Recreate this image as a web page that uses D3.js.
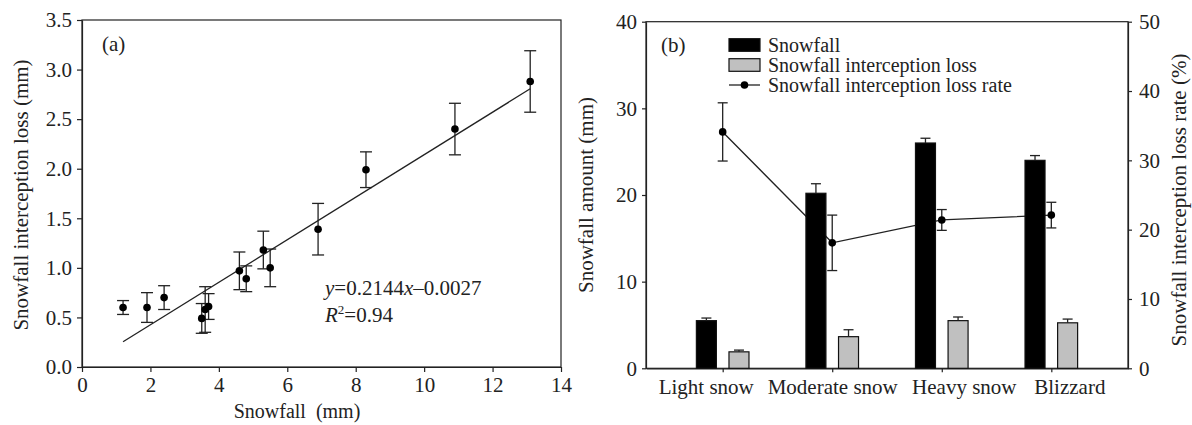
<!DOCTYPE html>
<html>
<head>
<meta charset="utf-8">
<title>Snowfall interception</title>
<script src="https://cdn.jsdelivr.net/npm/d3@7"></script>
<style>
  body { margin: 0; background: #fff; }
  svg, svg text { font-family: "Liberation Serif", "Times New Roman", serif; }
  .tick text { font-size: 21px; fill: #222; font-family: "Liberation Serif", "Times New Roman", serif; }
  .tick line, .domain { stroke: #222; stroke-width: 1.2; }
  .lbl { font-size: 21px; fill: #222; }
  .leg { font-size: 20px; fill: #222; }
</style>
</head>
<body>
<script>
// panel (a): snowfall vs interception loss
var snowfallX = [1.2, 1.9, 2.4, 3.5, 3.6, 3.7, 4.6, 4.8, 5.3, 5.5, 6.9, 8.3, 10.9, 13.1];
var lossY     = [0.60, 0.60, 0.70, 0.49, 0.58, 0.61, 0.97, 0.89, 1.18, 1.00, 1.39, 1.99, 2.40, 2.88];
var lossErr   = [0.07, 0.15, 0.12, 0.15, 0.23, 0.13, 0.19, 0.13, 0.19, 0.19, 0.26, 0.18, 0.26, 0.31];
var slope = 0.2144, intercept = -0.0027, r2 = 0.94;
var xTicksA = [0, 2, 4, 6, 8, 10, 12, 14];
var yTicksA = [0, 0.5, 1, 1.5, 2, 2.5, 3, 3.5];

// panel (b): by snowfall class
var categories   = ['Light snow', 'Moderate snow', 'Heavy snow', 'Blizzard'];
var snowAmount   = [5.5, 20.2, 26.0, 24.0];
var snowAmountErr= [0.3, 1.1, 0.55, 0.55];
var interLoss    = [1.9, 3.65, 5.5, 5.25];
var interLossErr = [0.2, 0.8, 0.42, 0.43];
var lossRate     = [34.1, 18.1, 21.4, 22.1];
var lossRateErr  = [4.2, 4.0, 1.5, 1.85];
var yTicksL = [0, 10, 20, 30, 40];
var yTicksR = [0, 10, 20, 30, 40, 50];

// category labels are not centred on their ticks in the original
var labelNudge = [-17, 0, 22, 18];

var ink = '#222';

var svg = d3.select('body').append('svg')
  .attr('width', 1192).attr('height', 425);

/* ---------- panel (a) ---------- */
var xA = d3.scaleLinear().domain([0, 14]).range([82, 561]);
var yA = d3.scaleLinear().domain([0, 3.5]).range([367, 20]);

var gA = svg.append('g');
gA.append('rect').attr('x', 82).attr('y', 20).attr('width', 561 - 82).attr('height', 367 - 20)
  .attr('fill', 'none').attr('stroke', ink).attr('stroke-width', 1.2);

gA.append('g').attr('transform', 'translate(0,367)')
  .call(d3.axisBottom(xA).tickValues(xTicksA).tickSize(5).tickSizeOuter(0).tickPadding(5));
gA.append('g').attr('transform', 'translate(82,0)')
  .call(d3.axisLeft(yA).tickValues(yTicksA).tickFormat(d3.format('.1f')).tickSize(5).tickSizeOuter(0).tickPadding(5));

// regression line
var xMin = d3.min(snowfallX), xMax = d3.max(snowfallX);
gA.append('line')
  .attr('x1', xA(xMin)).attr('y1', yA(slope * xMin + intercept))
  .attr('x2', xA(xMax)).attr('y2', yA(slope * xMax + intercept))
  .attr('stroke', ink).attr('stroke-width', 1.3);

var ptsA = snowfallX.map(function(d, i) { return { x: d, y: lossY[i], e: lossErr[i] }; });
var eb = gA.selectAll('.eb').data(ptsA).enter().append('g').attr('class', 'eb');
eb.append('line')
  .attr('x1', function(d) { return xA(d.x); }).attr('x2', function(d) { return xA(d.x); })
  .attr('y1', function(d) { return yA(d.y - d.e); }).attr('y2', function(d) { return yA(d.y + d.e); });
eb.append('line')
  .attr('x1', function(d) { return xA(d.x) - 6; }).attr('x2', function(d) { return xA(d.x) + 6; })
  .attr('y1', function(d) { return yA(d.y + d.e); }).attr('y2', function(d) { return yA(d.y + d.e); });
eb.append('line')
  .attr('x1', function(d) { return xA(d.x) - 6; }).attr('x2', function(d) { return xA(d.x) + 6; })
  .attr('y1', function(d) { return yA(d.y - d.e); }).attr('y2', function(d) { return yA(d.y - d.e); });
eb.selectAll('line').attr('stroke', ink).attr('stroke-width', 1.3);
gA.selectAll('.dot').data(ptsA).enter().append('circle')
  .attr('cx', function(d) { return xA(d.x); }).attr('cy', function(d) { return yA(d.y); })
  .attr('r', 3.8).attr('fill', '#000');

gA.append('text').attr('class', 'lbl').attr('x', 102).attr('y', 51).text('(a)');

var eq = gA.append('text').attr('class', 'lbl').attr('x', 325).attr('y', 295);
eq.append('tspan').attr('font-style', 'italic').text('y');
eq.append('tspan').text('=' + slope + '');
eq.append('tspan').attr('font-style', 'italic').text('x');
eq.append('tspan').text('\u2013' + Math.abs(intercept).toFixed(4));
var rt = gA.append('text').attr('class', 'lbl').attr('x', 325).attr('y', 322);
rt.append('tspan').attr('font-style', 'italic').text('R');
rt.append('tspan').attr('font-size', 13).attr('dy', -8).text('2');
rt.append('tspan').attr('dy', 8).text('=' + r2);

gA.append('text').attr('class', 'lbl').attr('x', 297).attr('y', 418).style('font-size', '20px')
  .attr('text-anchor', 'middle').style('white-space', 'pre').text('Snowfall  (mm)');
gA.append('text').attr('class', 'lbl').attr('text-anchor', 'middle')
  .attr('transform', 'translate(28,195) rotate(-90)').text('Snowfall interception loss (mm)');

/* ---------- panel (b) ---------- */
var xB = d3.scalePoint().domain(categories).range([646, 1128]).padding(0.7);
var yL = d3.scaleLinear().domain([0, 40]).range([368.3, 21.7]);
var yR = d3.scaleLinear().domain([0, 50]).range([368.3, 21.7]);

var gB = svg.append('g');
gB.append('rect').attr('x', 646).attr('y', 21.7).attr('width', 1128 - 646).attr('height', 368.3 - 21.7)
  .attr('fill', 'none').attr('stroke', ink).attr('stroke-width', 1.2);

var xAxB = gB.append('g').attr('transform', 'translate(0,368.3)')
  .call(d3.axisBottom(xB).tickSize(4).tickSizeOuter(0).tickPadding(7));
xAxB.selectAll('.tick text').attr('dx', function(d, i) { return labelNudge[i]; });
gB.append('g').attr('transform', 'translate(646,0)')
  .call(d3.axisLeft(yL).tickValues(yTicksL).tickSize(4).tickSizeOuter(0).tickPadding(5));
gB.append('g').attr('transform', 'translate(1128,0)')
  .call(d3.axisRight(yR).tickValues(yTicksR).tickSize(4).tickSizeOuter(0).tickPadding(7));

var barW = 20, off = 16.3;

// rate line sits behind the bars
gB.append('path')
  .datum(lossRate)
  .attr('d', d3.line().x(function(d, i) { return xB(categories[i]); }).y(function(d) { return yR(d); }))
  .attr('fill', 'none').attr('stroke', ink).attr('stroke-width', 1.3);

function bars(vals, errs, dx, fill) {
  var g = gB.append('g');
  g.selectAll('rect').data(vals).enter().append('rect')
    .attr('x', function(d, i) { return xB(categories[i]) + dx - barW / 2; })
    .attr('y', function(d) { return yL(d); })
    .attr('width', barW).attr('height', function(d) { return yL(0) - yL(d); })
    .attr('fill', fill).attr('stroke', '#111').attr('stroke-width', 1.2);
  g.selectAll('.v').data(vals).enter().append('line')
    .attr('x1', function(d, i) { return xB(categories[i]) + dx; })
    .attr('x2', function(d, i) { return xB(categories[i]) + dx; })
    .attr('y1', function(d) { return yL(d); })
    .attr('y2', function(d, i) { return yL(d + errs[i]); })
    .attr('stroke', ink).attr('stroke-width', 1.3);
  g.selectAll('.c').data(vals).enter().append('line')
    .attr('x1', function(d, i) { return xB(categories[i]) + dx - 5; })
    .attr('x2', function(d, i) { return xB(categories[i]) + dx + 5; })
    .attr('y1', function(d, i) { return yL(d + errs[i]); })
    .attr('y2', function(d, i) { return yL(d + errs[i]); })
    .attr('stroke', ink).attr('stroke-width', 1.3);
}
bars(snowAmount, snowAmountErr, -off, '#000');
bars(interLoss, interLossErr, off, '#c0c0c0');

var rg = gB.selectAll('.re').data(lossRate).enter().append('g');
rg.append('line')
  .attr('x1', function(d, i) { return xB(categories[i]); }).attr('x2', function(d, i) { return xB(categories[i]); })
  .attr('y1', function(d, i) { return yR(d - lossRateErr[i]); }).attr('y2', function(d, i) { return yR(d + lossRateErr[i]); });
rg.append('line')
  .attr('x1', function(d, i) { return xB(categories[i]) - 5; }).attr('x2', function(d, i) { return xB(categories[i]) + 5; })
  .attr('y1', function(d, i) { return yR(d + lossRateErr[i]); }).attr('y2', function(d, i) { return yR(d + lossRateErr[i]); });
rg.append('line')
  .attr('x1', function(d, i) { return xB(categories[i]) - 5; }).attr('x2', function(d, i) { return xB(categories[i]) + 5; })
  .attr('y1', function(d, i) { return yR(d - lossRateErr[i]); }).attr('y2', function(d, i) { return yR(d - lossRateErr[i]); });
rg.selectAll('line').attr('stroke', ink).attr('stroke-width', 1.3);
rg.append('circle')
  .attr('cx', function(d, i) { return xB(categories[i]); }).attr('cy', function(d) { return yR(d); })
  .attr('r', 3.8).attr('fill', '#000');

gB.append('text').attr('class', 'lbl').attr('x', 661).attr('y', 52).text('(b)');

// legend
var legNames = ['Snowfall', 'Snowfall interception loss', 'Snowfall interception loss rate'];
var leg = gB.selectAll('.lg').data(legNames).enter().append('g')
  .attr('transform', function(d, i) { return 'translate(729,' + (45 + i * 20) + ')'; });
leg.append('text').attr('class', 'leg').attr('x', 39).attr('y', 6.5).text(function(d) { return d; });
leg.filter(function(d, i) { return i < 2; }).append('rect')
  .attr('x', 0).attr('y', -6.3).attr('width', 31).attr('height', 12.6)
  .attr('fill', function(d, i) { return i === 0 ? '#000' : '#c0c0c0'; })
  .attr('stroke', '#111').attr('stroke-width', 1.2);
var l3 = leg.filter(function(d, i) { return i === 2; });
l3.append('line').attr('x1', 0).attr('x2', 31).attr('y1', 0).attr('y2', 0)
  .attr('stroke', ink).attr('stroke-width', 1.3);
l3.append('circle').attr('cx', 15.5).attr('cy', 0).attr('r', 3.8).attr('fill', '#000');

gB.append('text').attr('class', 'lbl').attr('text-anchor', 'middle')
  .attr('transform', 'translate(593,195) rotate(-90)').text('Snowfall amount (mm)');
gB.append('text').attr('class', 'lbl').attr('text-anchor', 'middle')
  .attr('transform', 'translate(1186,200) rotate(-90)').text('Snowfall interception loss rate (%)');
</script>
</body>
</html>
